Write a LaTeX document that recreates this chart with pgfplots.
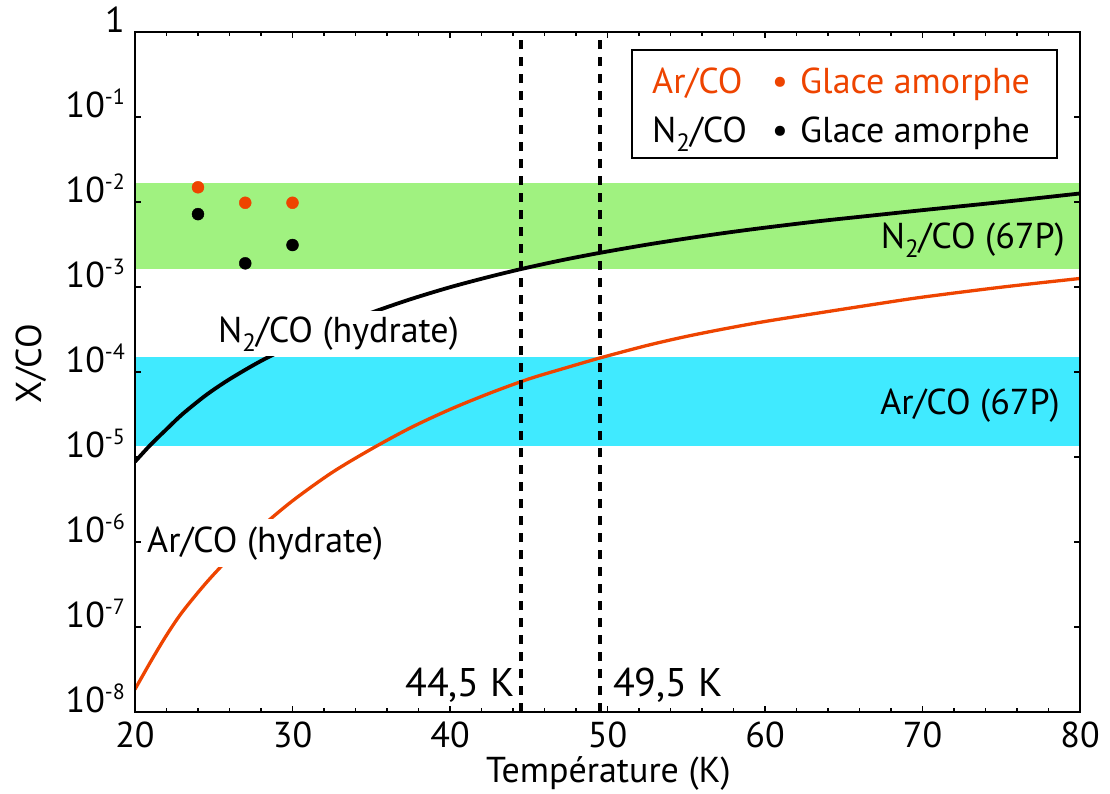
\documentclass[border=0pt]{standalone}
\usepackage{fontspec}
\setmainfont{PT Sans}
\usepackage{pgfplots}
\pgfplotsset{compat=1.18}
\definecolor{arorange}{RGB}{238,68,0}
\definecolor{bandgreen}{RGB}{160,242,128}
\definecolor{bandcyan}{RGB}{64,234,255}
\newcommand\bigf{\fontsize{36}{43}\selectfont}
\newcommand\tempf{\fontsize{40}{48}\selectfont}
\newcommand\tp[1]{10\raisebox{0.35em}{\fontsize{22}{22}\selectfont #1}}
\newcommand\sub[1]{\raisebox{-0.25em}{\fontsize{25}{25}\selectfont #1}}
\begin{document}
\bigf
\begin{tikzpicture}
\useasboundingbox (-135pt,-81pt) rectangle (975pt,712pt);
\begin{axis}[
  scale only axis, width=945pt, height=680pt,
  at={(0pt,0pt)}, anchor=south west,
  xmin=20, xmax=80, ymode=log, ymin=1e-8, ymax=1,
  axis on top,
  axis line style={line width=1.6pt},
  every tick/.style={black, line width=1.2pt},
  major tick length=6pt, minor tick length=4pt,
  tick align=inside,
  xtick={20,30,40,50,60,70,80}, minor x tick num=4,
  ytick={1e-8,1e-7,1e-6,1e-5,1e-4,1e-3,1e-2,1e-1,1},
  yticklabels={\tp{-8},\tp{-7},\tp{-6},\tp{-5},\tp{-4},\tp{-3},\tp{-2},\tp{-1},1},
  yminorticks=false,
  /pgf/number format/assume math mode=true,
  xticklabel style={font=\bigf, inner sep=0pt, anchor=base, yshift=-35pt},
  yticklabel style={font=\bigf, inner sep=0pt, anchor=base east, xshift=-10pt},
  xlabel={Température (K)},
  ylabel={X/CO},
  xlabel style={font=\bigf, inner sep=0pt, at={(axis description cs:0.501,0)}, anchor=base, yshift=-70pt},
  ylabel style={font=\bigf, inner sep=0pt, at={(axis description cs:-0.0987,0.5125)}, anchor=base},
]
% 67P bands
\addplot[draw=none, fill=bandgreen, forget plot] coordinates {(20,1.63e-3) (80,1.63e-3) (80,1.66e-2) (20,1.66e-2)};
\addplot[draw=none, fill=bandcyan, forget plot] coordinates {(20,1.36e-5) (80,1.36e-5) (80,1.49e-4) (20,1.49e-4)};
% N2/CO hydrate
\addplot[black, line width=3.8pt, smooth] table {
x y
20 8.81e-6
21 1.40e-5
22 2.12e-5
23 3.18e-5
24.5 5.33e-5
26 8.22e-5
28 1.35e-4
30 2.05e-4
32.5 3.29e-4
35 4.98e-4
37.5 7.19e-4
40 9.94e-4
42.5 1.32e-3
44.6 1.64e-3
47 2.05e-3
49.5 2.52e-3
52.5 3.15e-3
55 3.72e-3
57.5 4.34e-3
60 4.99e-3
63.5 5.97e-3
67 7.00e-3
70 8.02e-3
75 9.98e-3
80 1.26e-2
};
% Ar/CO hydrate
\addplot[arorange, line width=3.3pt, smooth] table {
x y
20 1.85e-8
21 3.93e-8
22 8.00e-8
23 1.50e-7
24.5 3.28e-7
26 6.52e-7
28 1.49e-6
30 3.05e-6
32.5 6.55e-6
35 1.24e-5
37.5 2.21e-5
40 3.63e-5
42.5 5.61e-5
45 8.28e-5
47.5 1.14e-4
49.5 1.46e-4
52.5 2.05e-4
55 2.62e-4
57.5 3.24e-4
60 3.93e-4
63.5 4.98e-4
67 6.28e-4
70 7.60e-4
75 9.95e-4
80 1.26e-3
};
% amorphous ice
\addplot[only marks, mark=*, mark size=6pt, color=arorange] coordinates {(24,0.0149) (27,0.0098) (30,0.0098)};
\addplot[only marks, mark=*, mark size=6pt, color=black] coordinates {(24,7.2e-3) (27,1.9e-3) (30,3.12e-3)};
% temperatures
\addplot[black, line width=4pt, dash pattern=on 9pt off 8pt] coordinates {(44.5,1e-8) (44.5,1)};
\addplot[black, line width=4pt, dash pattern=on 9pt off 8pt] coordinates {(49.5,1e-8) (49.5,1)};
% labels
\node[font=\bigf, fill=white, inner xsep=4pt, inner ysep=5pt, anchor=base west] at (rel axis cs:0.0836,0.544) {N\sub{2}/CO (hydrate)};
\node[font=\bigf, fill=white, inner xsep=4pt, inner ysep=7pt, anchor=base west] at (rel axis cs:0.00847,0.2353) {Ar/CO (hydrate)};
\node[font=\bigf, inner sep=0pt, anchor=base east] at (rel axis cs:0.9841,0.682) {N\sub{2}/CO (67P)};
\node[font=\bigf, inner sep=0pt, anchor=base east] at (rel axis cs:0.9788,0.4368) {Ar/CO (67P)};
\node[font=\tempf, inner sep=0pt, anchor=base east] at (rel axis cs:0.4021,0.0225) {44,5 K};
\node[font=\tempf, inner sep=0pt, anchor=base west] at (rel axis cs:0.5058,0.0225) {49,5 K};
% legend
\draw[line width=2.5pt, fill=white] (rel axis cs:0.526,0.8147) rectangle (rel axis cs:0.9757,0.9735);
\node[font=\bigf, inner sep=0pt, anchor=base west, text=arorange] at (rel axis cs:0.5471,0.9103) {Ar/CO};
\node[font=\bigf, inner sep=0pt, anchor=base, text=arorange] at (rel axis cs:0.6825,0.9103) {\textbullet};
\node[font=\bigf, inner sep=0pt, anchor=base west, text=arorange] at (rel axis cs:0.7037,0.9103) {Glace amorphe};
\node[font=\bigf, inner sep=0pt, anchor=base west] at (rel axis cs:0.5471,0.8368) {N\sub{2}/CO};
\node[font=\bigf, inner sep=0pt, anchor=base] at (rel axis cs:0.6825,0.8368) {\textbullet};
\node[font=\bigf, inner sep=0pt, anchor=base west] at (rel axis cs:0.7037,0.8368) {Glace amorphe};
\end{axis}
\end{tikzpicture}
\end{document}
